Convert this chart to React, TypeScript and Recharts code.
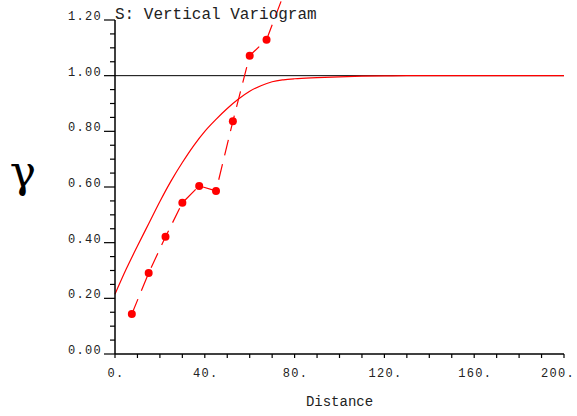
import React from 'react';
import { LineChart, Line, XAxis, YAxis, ReferenceLine } from 'recharts';

// Model variogram curve (distance, gamma)
const modelDist = [0, 5, 10, 15, 20, 25, 30, 35, 40, 45, 50, 55, 60, 65, 70, 75, 80, 90, 100, 110, 120, 130, 140, 160, 180, 200];
const modelGamma = [0.215, 0.305, 0.388, 0.468, 0.548, 0.622, 0.688, 0.748, 0.8, 0.843, 0.882, 0.916, 0.944, 0.964, 0.978, 0.985, 0.989, 0.993, 0.996, 0.998, 0.999, 1.0, 1.0, 1.0, 1.0, 1.0];

// Experimental variogram points
const expDist = [7.5, 15, 22.5, 30, 37.5, 45, 52.5, 60, 67.5, 75];
const expGamma = [0.144, 0.291, 0.421, 0.543, 0.604, 0.586, 0.836, 1.072, 1.129, 1.289];

const yTicks = [0, 0.05, 0.1, 0.15, 0.2, 0.25, 0.3, 0.35, 0.4, 0.45, 0.5, 0.55, 0.6, 0.65, 0.7, 0.75, 0.8, 0.85, 0.9, 0.95, 1.0, 1.05, 1.1, 1.15, 1.2];
const yMajor = [0, 0.2, 0.4, 0.6, 0.8, 1.0, 1.2];
const xTicks = [0, 10, 20, 30, 40, 50, 60, 70, 80, 90, 100, 110, 120, 130, 140, 150, 160, 170, 180, 190, 200];
const xMajor = [0, 40, 80, 120, 160, 200];

const title = 'S: Vertical Variogram';
const xTitle = 'Distance';
const yTitle = 'γ';

const modelData = modelDist.map((d, i) => ({ d, g: modelGamma[i] }));
const expData = expDist.slice(0, 9).map((d, i) => ({ d, g: expGamma[i] }));

const MONO = '"Liberation Mono", "DejaVu Sans Mono", monospace';
const RED = '#ff0000';
const TEXT = '#222';

const isMajor = (v: number, list: number[]) => list.some((m) => Math.abs(m - v) < 1e-6);

const YTick = (props: any) => {
  const { x, y, payload } = props;
  const v = payload.value as number;
  const major = isMajor(v, yMajor);
  return (
    <g>
      <line x1={x - (major ? 11 : 5)} x2={x} y1={y} y2={y} stroke="#000" strokeWidth={1.2} />
      {major && (
        <text x={x - 13} y={y} textAnchor="end" fontFamily={MONO} fontSize={12} letterSpacing={1.3} fill={TEXT}>
          {v.toFixed(2)}
        </text>
      )}
    </g>
  );
};

const XTick = (props: any) => {
  const { x, y, payload } = props;
  const v = payload.value as number;
  const major = isMajor(v, xMajor);
  const last = v === xMajor[xMajor.length - 1];
  return (
    <g>
      <line x1={x} x2={x} y1={y} y2={y + 4} stroke="#000" strokeWidth={1.2} />
      {major && (
        <text
          x={last ? x + 11 : x + 1}
          y={y + 23}
          textAnchor={last ? 'end' : 'middle'}
          fontFamily={MONO}
          fontSize={12}
          letterSpacing={1.3}
          fill={TEXT}
        >
          {`${v}.`}
        </text>
      )}
    </g>
  );
};

export default function App() {
  return (
    <div style={{ position: 'absolute', left: 0, top: 0, width: 577, height: 416, background: '#fff' }}>
      <LineChart width={577} height={416} margin={{ top: 20, right: 13, bottom: 22, left: 55 }}>
        <XAxis
          dataKey="d"
          type="number"
          domain={[0, 200]}
          ticks={xTicks}
          interval={0}
          tickSize={0}
          tickMargin={0}
          tickLine={false}
          tick={<XTick />}
          axisLine={{ stroke: '#000', strokeWidth: 1.5 }}
          height={40}
        />
        <YAxis
          type="number"
          domain={[0, 1.2]}
          ticks={yTicks}
          interval={0}
          tickSize={0}
          tickMargin={0}
          tickLine={false}
          tick={<YTick />}
          axisLine={{ stroke: '#000', strokeWidth: 1.5 }}
          width={60}
        />
        <ReferenceLine y={1} stroke="#000" strokeWidth={1} />
        <Line
          data={modelData}
          dataKey="g"
          type="monotone"
          stroke={RED}
          strokeWidth={1.2}
          dot={false}
          isAnimationActive={false}
        />
        <Line
          data={expData}
          dataKey="g"
          type="linear"
          stroke={RED}
          strokeWidth={1.2}
          strokeDasharray="16 9"
          dot={{ r: 4, fill: RED, stroke: 'none' }}
          isAnimationActive={false}
        />
        <ReferenceLine
          segment={[
            { x: expDist[8], y: expGamma[8] },
            { x: expDist[9], y: expGamma[9] },
          ]}
          ifOverflow="visible"
          stroke={RED}
          strokeWidth={1.2}
          strokeDasharray="16 9"
        />
      </LineChart>
      <svg width={577} height={416} style={{ position: 'absolute', left: 0, top: 0, pointerEvents: 'none' }}>
        <text x={115} y={18.5} fontFamily={MONO} fontSize={16} fill={TEXT}>
          {title}
        </text>
        <text x={339.5} y={405.5} textAnchor="middle" fontFamily={MONO} fontSize={14} fill={TEXT}>
          {xTitle}
        </text>
        <text x={23} y={187} textAnchor="middle" fontFamily='"DejaVu Serif", "Liberation Serif", serif' fontSize={44} fill="#000">
          {yTitle}
        </text>
      </svg>
    </div>
  );
}
